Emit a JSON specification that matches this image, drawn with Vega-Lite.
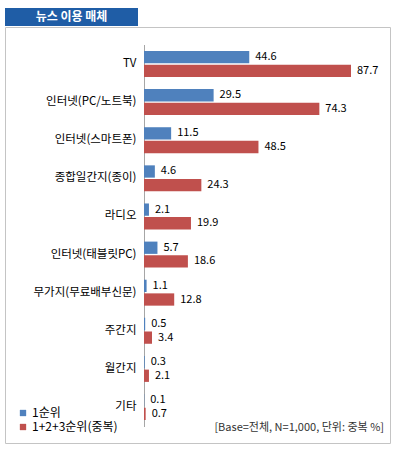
{
  "$schema": "https://vega.github.io/schema/vega-lite/v6.json",
  "padding": {"left": 4, "top": 8, "right": 0, "bottom": 0},
  "spacing": 0,
  "config": {
    "font": "Noto Sans CJK KR",
    "view": {"stroke": null}
  },
  "datasets": {
    "media": [
      {"medium": "TV", "rank": "1순위", "value": 44.6},
      {"medium": "TV", "rank": "1+2+3순위(중복)", "value": 87.7},
      {"medium": "인터넷(PC/노트북)", "rank": "1순위", "value": 29.5},
      {"medium": "인터넷(PC/노트북)", "rank": "1+2+3순위(중복)", "value": 74.3},
      {"medium": "인터넷(스마트폰)", "rank": "1순위", "value": 11.5},
      {"medium": "인터넷(스마트폰)", "rank": "1+2+3순위(중복)", "value": 48.5},
      {"medium": "종합일간지(종이)", "rank": "1순위", "value": 4.6},
      {"medium": "종합일간지(종이)", "rank": "1+2+3순위(중복)", "value": 24.3},
      {"medium": "라디오", "rank": "1순위", "value": 2.1},
      {"medium": "라디오", "rank": "1+2+3순위(중복)", "value": 19.9},
      {"medium": "인터넷(태블릿PC)", "rank": "1순위", "value": 5.7},
      {"medium": "인터넷(태블릿PC)", "rank": "1+2+3순위(중복)", "value": 18.6},
      {"medium": "무가지(무료배부신문)", "rank": "1순위", "value": 1.1},
      {"medium": "무가지(무료배부신문)", "rank": "1+2+3순위(중복)", "value": 12.8},
      {"medium": "주간지", "rank": "1순위", "value": 0.5},
      {"medium": "주간지", "rank": "1+2+3순위(중복)", "value": 3.4},
      {"medium": "월간지", "rank": "1순위", "value": 0.3},
      {"medium": "월간지", "rank": "1+2+3순위(중복)", "value": 2.1},
      {"medium": "기타", "rank": "1순위", "value": 0.1},
      {"medium": "기타", "rank": "1+2+3순위(중복)", "value": 0.7}
    ],
    "banner": [{"label": "뉴스 이용 매체"}]
  },
  "vconcat": [
    {
      "width": 133,
      "height": 18,
      "view": {"fill": "#1F5DA6", "stroke": null},
      "data": {"name": "banner"},
      "mark": {"type": "text", "color": "white", "fontSize": 12, "fontWeight": "bold", "align": "center", "baseline": "middle"},
      "encoding": {"text": {"field": "label"}}
    },
    {
      "width": 385,
      "height": 416,
      "view": {"stroke": "#C4C4C4", "strokeWidth": 1},
      "data": {"name": "media"},
      "title": {
        "text": "[Base=전체, N=1,000, 단위: 중복 %]",
        "orient": "bottom",
        "anchor": "end",
        "offset": -21,
        "dx": -6,
        "fontSize": 11,
        "fontWeight": "normal",
        "color": "#333333"
      },
      "encoding": {
        "y": {
          "field": "medium",
          "type": "nominal",
          "sort": null,
          "scale": {"range": [17.5, 399.5], "paddingInner": 0.32, "paddingOuter": 0.17},
          "axis": {
            "title": null,
            "offset": -139,
            "ticks": false,
            "labelPadding": 8,
            "labelFontSize": 11.5,
            "labelColor": "#000000",
            "domainColor": "#A6A6A6",
            "domainWidth": 1
          }
        },
        "yOffset": {
          "field": "rank",
          "type": "nominal",
          "sort": ["1순위", "1+2+3순위(중복)"],
          "scale": {"paddingInner": 0.1}
        },
        "x": {
          "field": "value",
          "type": "quantitative",
          "scale": {"domain": [0, 100], "range": [139, 375], "nice": false, "zero": true},
          "axis": null
        }
      },
      "layer": [
        {
          "mark": {"type": "bar"},
          "encoding": {
            "color": {
              "field": "rank",
              "type": "nominal",
              "sort": ["1순위", "1+2+3순위(중복)"],
              "scale": {"domain": ["1순위", "1+2+3순위(중복)"], "range": ["#4F81BD", "#C0504D"]},
              "legend": {
                "title": null,
                "orient": "none",
                "legendX": 12,
                "legendY": 399,
                "symbolType": "square",
                "symbolSize": 40,
                "symbolStrokeWidth": 0,
                "labelFontSize": 12,
                "labelColor": "#000000",
                "labelOffset": 3,
                "rowPadding": 2
              }
            }
          }
        },
        {
          "mark": {"type": "text", "align": "left", "baseline": "middle", "dx": 6, "fontSize": 11, "color": "#000000"},
          "encoding": {
            "text": {"field": "value", "type": "quantitative", "format": ".1f"}
          }
        }
      ]
    }
  ]
}
